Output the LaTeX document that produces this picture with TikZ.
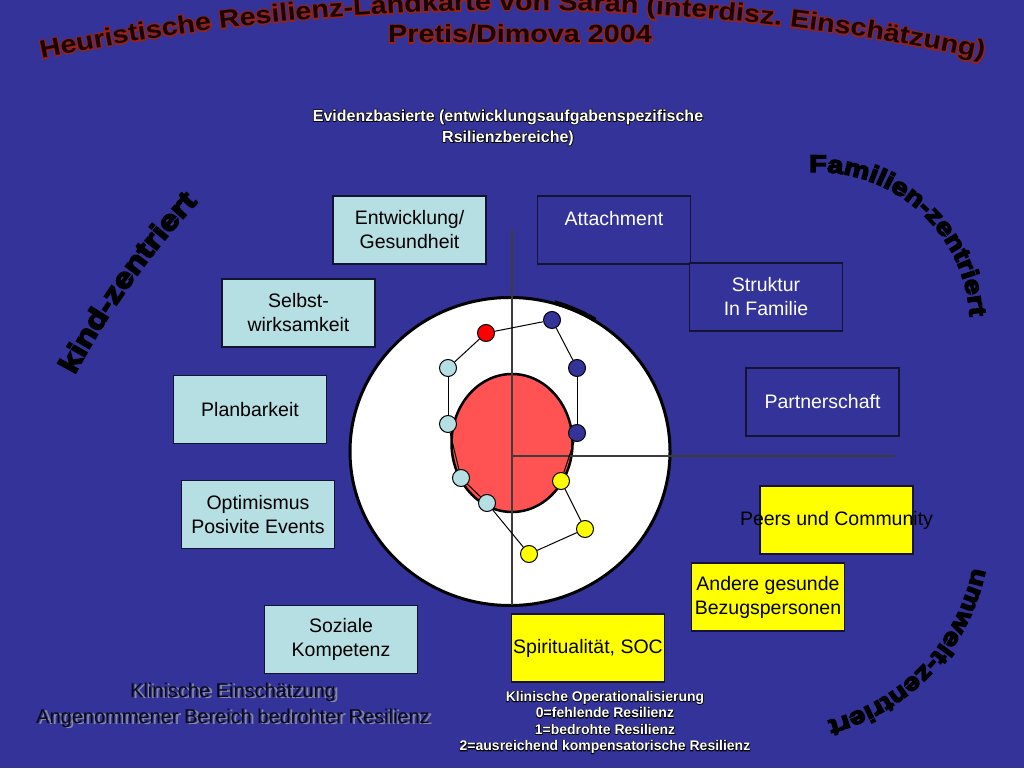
\documentclass[tikz,border=0pt]{standalone}
\usepackage{fontspec}
\setsansfont{Liberation Sans}
\newfontfamily\widefont{Liberation Sans}[FakeStretch=1.15]
\newfontfamily\edgefont{Liberation Sans}[FakeStretch=1.15,FakeBold=10]
\newfontfamily\heavyfont{Liberation Sans}[FakeStretch=1.2,FakeBold=6]
\newfontfamily\rimfont{Liberation Sans}[FakeBold=8]
\usetikzlibrary{
  shapes,
  decorations.text, % Labels along the arcs
  backgrounds
}
\definecolor{bg}{RGB}{51,51,153}
\definecolor{kidfill}{RGB}{182,223,227}
\definecolor{worldfill}{RGB}{255,255,0}
\definecolor{redfill}{RGB}{255,82,82}
\definecolor{boxline}{RGB}{20,20,50}
\definecolor{titleedge}{RGB}{150,35,25}
\definecolor{titleink}{RGB}{25,5,5}
\definecolor{clinink}{RGB}{10,10,25}
\definecolor{clinshade}{RGB}{135,135,162}
\definecolor{axisline}{RGB}{60,60,60}
\def\boxw{153pt}
\def\boxh{68pt}
\newcommand{\fs}[2]{\fontsize{#1}{#2}\selectfont}
\tikzset{
  font=\sffamily,
  semithick,
  base box/.style={
    draw=boxline,
    line width=1.2pt,
    rectangle,
    minimum width=\boxw,
    minimum height=\boxh,
    inner sep=0pt,
    align=center,
    font=\sffamily\fs{19.5}{24}
  },
  kid box/.style={base box,fill=kidfill},
  family box/.style={base box,fill=bg,text=white},
  world box/.style={base box,fill=worldfill},
  rating dot/.style={
    circle,
    draw=black,
    line width=1pt,
    minimum size=17pt,
    inner sep=0pt
  },
  title edge/.style={text=titleedge,font=\edgefont\bfseries\fs{25}{25}},
  title ink/.style={text=titleink,font=\widefont\bfseries\fs{25}{25}},
  rim text/.style={text=black,align=center,font=\rimfont\bfseries#1},
  white text/.style={text=white,align=center,font=\sffamily\bfseries#1},
  arc text/.style={
    decorate,
    decoration={text along path,text align=center,text color=black,
      text={|\heavyfont\bfseries\fs{#1}{#1}|\arclabel}}
  }
}

\begin{document}
\begin{tikzpicture}[x=1pt,y=1pt]
\useasboundingbox (0,0) rectangle (1024,768);
\fill[bg] (0,0) rectangle (1024,768);

% title along the top arch
\path[decorate,shift={(512,-1542)},
  decoration={text along path,text align=center,text color=titleedge,
    text={|\edgefont\bfseries\fs{25}{25}|Heuristische Resilienz-Landkarte von Sarah (interdisz. Einschätzung)}}]
  (103:2300) arc[start angle=103,end angle=77,radius=2300];
\path[decorate,shift={(512,-1542)},
  decoration={text along path,text align=center,text color=titleink,
    text={|\widefont\bfseries\fs{25}{25}|Heuristische Resilienz-Landkarte von Sarah (interdisz. Einschätzung)}}]
  (103:2300) arc[start angle=103,end angle=77,radius=2300];
\node[title edge] (year edge) at (520,734) {Pretis/Dimova 2004};
\node[title ink]  (year)      at (520,734) {Pretis/Dimova 2004};

% side labels
\def\arclabel{kind-zentriert}
\path[arc text=28,shift={(794,10)}] (156:815) arc[start angle=156,end angle=133,radius=815];
\def\arclabel{Familien-zentriert}
\path[arc text=24,shift={(817,443)}] (99:153) arc[start angle=99,end angle=-3,radius=153];
\def\arclabel{umwelt-zentriert}
\path[arc text=24,shift={(778,240)}] (-5:199) arc[start angle=-5,end angle=-82,radius=199];

% heading
\node[rim text=\fs{16}{21}]   (evid rim) at (508,640.5) {Evidenzbasierte (entwicklungsaufgabenspezifische\\Rsilienzbereiche)};
\node[white text=\fs{16}{21}] (evid)     at (508,640.5) {Evidenzbasierte (entwicklungsaufgabenspezifische\\Rsilienzbereiche)};

% target
\node[ellipse,draw=black,line width=3pt,fill=white,minimum width=320pt,minimum height=308pt,inner sep=0pt] (target) at (510,316.5) {};
\draw[line width=4.5pt] (510,316.5) ++(74:161 and 155) arc[start angle=74,end angle=58,x radius=161,y radius=155];
\node[ellipse,draw=black,line width=2.5pt,fill=redfill,minimum width=121pt,minimum height=138pt,inner sep=0pt] (core) at (512,325) {};
\coordinate (axis top)    at (512,538);
\coordinate (axis bottom) at (512,163);
\coordinate (axis mid)    at (512,312);
\coordinate (axis right)  at (895,312);
\draw[axisline,line width=1.3pt] (axis top) -- (axis bottom);
\draw[axisline,line width=1.3pt] (axis mid) -- (axis right);

% rating dots
\node[rating dot,fill=red]       (r)  at (486,435) {};
\node[rating dot,fill=bg]        (d1) at (552,448) {};
\node[rating dot,fill=bg]        (d2) at (577,400) {};
\node[rating dot,fill=bg]        (d3) at (577,335) {};
\node[rating dot,fill=worldfill] (y1) at (561,287) {};
\node[rating dot,fill=worldfill] (y2) at (585,239) {};
\node[rating dot,fill=worldfill] (y3) at (529,214) {};
\node[rating dot,fill=kidfill]   (l4) at (487,265) {};
\node[rating dot,fill=kidfill]   (l3) at (461,290) {};
\node[rating dot,fill=kidfill]   (l2) at (448,344) {};
\node[rating dot,fill=kidfill]   (l1) at (448,400) {};
\path[line width=1pt] (r)  edge (d1)
                           edge (l1)
                      (d1) edge (d2)
                      (d2) edge (d3)
                      (d3) edge (y1)
                      (y1) edge (y2)
                      (y2) edge (y3)
                      (y3) edge (l4)
                      (l4) edge (l3)
                      (l3) edge (l2)
                      (l2) edge (l1);

% areas
\node[kid box] (health)  at (409.5,538) {Entwicklung/\\Gesundheit};
\node[kid box] (self)    at (298.5,455) {Selbst-\\wirksamkeit};
\node[kid box] (plan)    at (250,358.5) {Planbarkeit};
\node[kid box] (hope)    at (258,253.5) {Optimismus\\Posivite Events};
\node[kid box] (social)  at (341,128.5) {Soziale\\Kompetenz};
\node[family box] (attach)  at (614,538)   {Attachment\\\mbox{}};
\node[family box] (order)   at (766,471)   {Struktur\\In Familie};
\node[family box] (partner) at (822.5,366) {Partnerschaft};
\node[world box] (peers)  at (836.5,248) {\makebox[0pt]{Peers und Community}};
\node[world box] (others) at (768,171)   {Andere gesunde\\Bezugspersonen};
\node[world box] (faith)  at (588,120)   {Spiritualität, SOC};

% clinical notes
\node[text=clinshade,align=center,font=\sffamily\fs{20}{26}] (clin shade) at (236,61.5) {Klinische Einschätzung\\Angenommener Bereich bedrohter Resilienz};
\node[text=clinink,align=center,font=\sffamily\fs{20}{26}]   (clin)       at (233,63)   {Klinische Einschätzung\\Angenommener Bereich bedrohter Resilienz};
\node[rim text=\fs{14}{16.4}]   (scale rim) at (605,45.5) {Klinische Operationalisierung\\0=fehlende Resilienz\\1=bedrohte Resilienz\\2=ausreichend kompensatorische Resilienz};
\node[white text=\fs{14}{16.4}] (scale)     at (605,45.5) {Klinische Operationalisierung\\0=fehlende Resilienz\\1=bedrohte Resilienz\\2=ausreichend kompensatorische Resilienz};
\end{tikzpicture}
\end{document}
